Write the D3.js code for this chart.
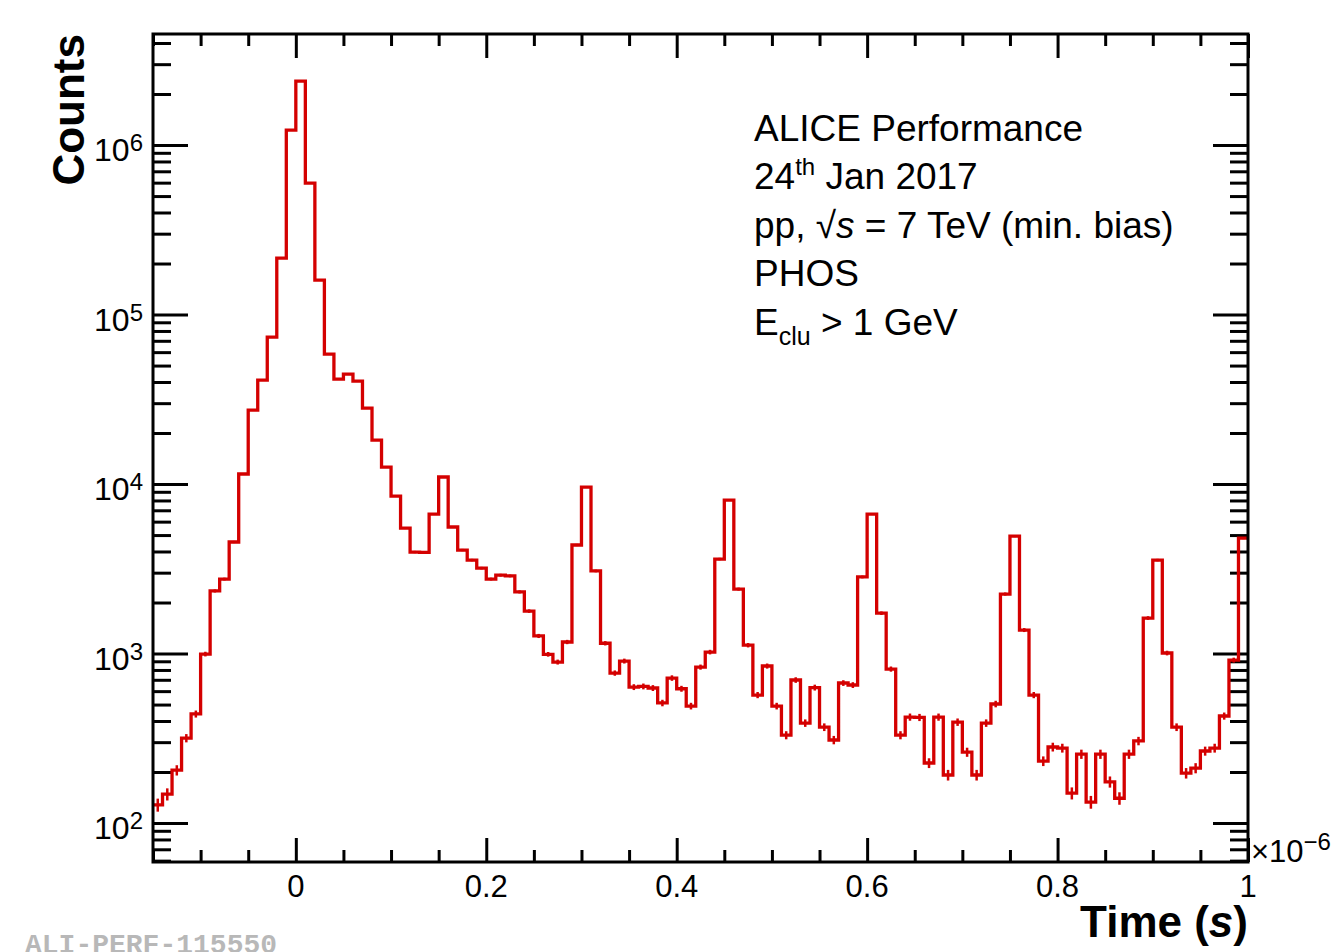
<!DOCTYPE html>
<html lang="en">
<head>
  <meta charset="utf-8">
  <title>PHOS cluster time</title>
  <script src="https://cdnjs.cloudflare.com/ajax/libs/d3/7.8.5/d3.min.js"></script>
  <style type="text/css">
	body {
		margin: 0;
		background: #fff;
	}
	text {
		font-family: "Liberation Sans", Arial, Helvetica, sans-serif;
	}
  </style>
</head>
<body>
<svg id="chart"></svg>
<script>
	// histogram: 10 ns bins from -0.15 to 1.0 (x1e-6 s)
	var binLow = -0.15;
	var binWidth = 0.01;
	var counts = [
		128, 148, 205, 317, 440, 993, 2340, 2750, 4550, 11460,
		27330, 41080, 73660, 215400, 1226000, 2385000, 596700, 159800, 58480, 41640,
		44570, 40520, 28080, 18180, 12600, 8495, 5500, 3970, 3950, 6650,
		11000, 5580, 4080, 3560, 3190, 2750, 2900, 2870, 2310, 1780,
		1270, 990, 891, 1170, 4370, 9600, 3070, 1150, 767, 903,
		634, 640, 626, 511, 717, 620, 490, 832, 1020, 3610,
		8045, 2400, 1120, 569, 844, 490, 330, 698, 389, 630,
		368, 309, 670, 652, 2830, 6650, 1730, 810, 330, 422,
		420, 226, 422, 192, 394, 262, 192, 389, 504, 2244,
		4930, 1376, 569, 232, 281, 277, 150, 255, 133, 255,
		175, 140, 255, 305, 1620, 3560, 1007, 368, 197, 211,
		266, 277, 428, 915, 4800
	];
	var xMajor = [0, 0.2, 0.4, 0.6, 0.8, 1.0];
	var xMajorLabels = ["0", "0.2", "0.4", "0.6", "0.8", "1"];
	var xMinorStep = 0.05;
	var yExponents = [2, 3, 4, 5, 6];

	var w = 1336;
	var h = 952;
	var padL = 153, padR = 1248, padT = 34, padB = 862;
	var red = "#d40000";

	var svg = d3.select("#chart")
		.attr("width", w)
		.attr("height", h);

	var xScale = d3.scaleLinear().domain([-0.15, 1.0]).range([padL, padR]);
	var yScale = d3.scaleLog().domain([58.9, 4.52e6]).range([padB, padT]);

	//minor tick values
	var xMinor = d3.range(-0.15, 1.0001, xMinorStep).filter(function(v) {
		return xMajor.every(function(m) { return Math.abs(m - v) > 1e-6; });
	});
	var yMinor = [];
	for (var e = 1; e <= 6; e++) {
		for (var k = 2; k <= 9; k++) {
			var v = k * Math.pow(10, e);
			if (v > 58.9 && v < 4.52e6) yMinor.push(v);
		}
	}
	var yMajor = yExponents.map(function(p) { return Math.pow(10, p); });

	var tickStyle = function(g) {
		g.select(".domain").remove();
		g.selectAll("line").attr("stroke", "#000").attr("stroke-width", 3);
		g.selectAll("text").remove();
	};

	//ticks on all four sides
	svg.append("g").attr("transform", "translate(0," + padB + ")")
		.call(d3.axisBottom(xScale).tickValues(xMajor).tickSize(-24)).call(tickStyle);
	svg.append("g").attr("transform", "translate(0," + padB + ")")
		.call(d3.axisBottom(xScale).tickValues(xMinor).tickSize(-12)).call(tickStyle);
	svg.append("g").attr("transform", "translate(0," + padT + ")")
		.call(d3.axisTop(xScale).tickValues(xMajor).tickSize(-24)).call(tickStyle);
	svg.append("g").attr("transform", "translate(0," + padT + ")")
		.call(d3.axisTop(xScale).tickValues(xMinor).tickSize(-12)).call(tickStyle);
	svg.append("g").attr("transform", "translate(" + padL + ",0)")
		.call(d3.axisLeft(yScale).tickValues(yMajor).tickSize(-35)).call(tickStyle);
	svg.append("g").attr("transform", "translate(" + padL + ",0)")
		.call(d3.axisLeft(yScale).tickValues(yMinor).tickSize(-18)).call(tickStyle);
	svg.append("g").attr("transform", "translate(" + padR + ",0)")
		.call(d3.axisRight(yScale).tickValues(yMajor).tickSize(-35)).call(tickStyle);
	svg.append("g").attr("transform", "translate(" + padR + ",0)")
		.call(d3.axisRight(yScale).tickValues(yMinor).tickSize(-18)).call(tickStyle);

	//histogram
	var pts = counts.map(function(c, i) { return [binLow + i * binWidth, c]; });
	pts.push([binLow + counts.length * binWidth, counts[counts.length - 1]]);

	svg.append("clipPath").attr("id", "plotclip")
		.append("rect")
		.attr("x", padL).attr("y", padT)
		.attr("width", padR - padL).attr("height", padB - padT);

	var line = d3.line()
		.x(function(d) { return xScale(d[0]); })
		.y(function(d) { return yScale(d[1]); })
		.curve(d3.curveStepAfter);

	var plot = svg.append("g").attr("clip-path", "url(#plotclip)");

	plot.append("path")
		.datum(pts)
		.attr("d", line)
		.attr("fill", "none")
		.attr("stroke", red)
		.attr("stroke-width", 3.3);

	//statistical error bars
	plot.selectAll(".err").data(counts)
		.enter().append("line")
		.attr("class", "err")
		.attr("x1", function(d, i) { return xScale(binLow + (i + 0.5) * binWidth); })
		.attr("x2", function(d, i) { return xScale(binLow + (i + 0.5) * binWidth); })
		.attr("y1", function(d) { return yScale(d - Math.sqrt(d)); })
		.attr("y2", function(d) { return yScale(d + Math.sqrt(d)); })
		.attr("stroke", red)
		.attr("stroke-width", 2.5);

	//frame
	svg.append("rect")
		.attr("x", padL).attr("y", padT)
		.attr("width", padR - padL).attr("height", padB - padT)
		.attr("fill", "none")
		.attr("stroke", "#000")
		.attr("stroke-width", 3);

	//x labels
	svg.selectAll(".xlab").data(xMajor)
		.enter().append("text")
		.attr("class", "xlab")
		.attr("x", function(d) { return xScale(d); })
		.attr("y", 897)
		.attr("text-anchor", "middle")
		.style("font-size", "31px")
		.text(function(d, i) { return xMajorLabels[i]; });

	//y labels 10^n
	var ylab = svg.selectAll(".ylab").data(yMajor)
		.enter().append("text")
		.attr("class", "ylab")
		.attr("x", 143)
		.attr("y", function(d) { return yScale(d) + 16; })
		.attr("text-anchor", "end")
		.style("font-size", "32px");
	ylab.append("tspan").text("10");
	ylab.append("tspan")
		.attr("dy", -10)
		.style("font-size", "24px")
		.text(function(d, i) { return yExponents[i]; });

	//x10^-6 multiplier
	var mult = svg.append("text")
		.attr("x", 1251)
		.attr("y", 862)
		.style("font-size", "31px");
	mult.append("tspan").text("\u00d710");
	mult.append("tspan").attr("dy", -12).style("font-size", "24px").text("\u22126");

	//axis titles
	var xt = svg.append("text")
		.attr("x", padR)
		.attr("y", 937)
		.attr("text-anchor", "end")
		.attr("font-weight", "bold")
		.style("font-size", "44px");
	xt.append("tspan").text("Time (");
	xt.append("tspan").style("font-style", "italic").text("s");
	xt.append("tspan").text(")");

	svg.append("text")
		.attr("transform", "translate(84," + padT + ") rotate(-90)")
		.attr("text-anchor", "end")
		.attr("font-weight", "bold")
		.style("font-size", "44px")
		.text("Counts");

	//info block
	var info = svg.append("g").attr("transform", "translate(754,0)");
	var lineY = [141, 189, 238, 286, 335];
	var fs = "37px";

	info.append("text").attr("y", lineY[0]).style("font-size", fs).text("ALICE Performance");

	var t2 = info.append("text").attr("y", lineY[1]).style("font-size", fs);
	t2.append("tspan").text("24");
	t2.append("tspan").attr("dy", -14).style("font-size", "24px").text("th");
	t2.append("tspan").attr("dy", 14).text(" Jan 2017");

	var t3 = info.append("text").attr("y", lineY[2]).style("font-size", fs);
	t3.append("tspan").text("pp, \u221a");
	t3.append("tspan").style("font-style", "italic").text("s");
	t3.append("tspan").text(" = 7 TeV (min. bias)");

	info.append("text").attr("y", lineY[3]).style("font-size", fs).text("PHOS");

	var t5 = info.append("text").attr("y", lineY[4]).style("font-size", fs);
	t5.append("tspan").text("E");
	t5.append("tspan").attr("dy", 10).style("font-size", "25px").text("clu");
	t5.append("tspan").attr("dy", -10).text(" > 1 GeV");

	//figure id
	svg.append("text")
		.attr("x", 25)
		.attr("y", 953)
		.attr("font-weight", "bold")
		.style("font-family", "'Liberation Mono', 'DejaVu Sans Mono', monospace")
		.style("font-size", "28px")
		.attr("fill", "#b8b8b8")
		.text("ALI-PERF-115550");
</script>
</body>
</html>
